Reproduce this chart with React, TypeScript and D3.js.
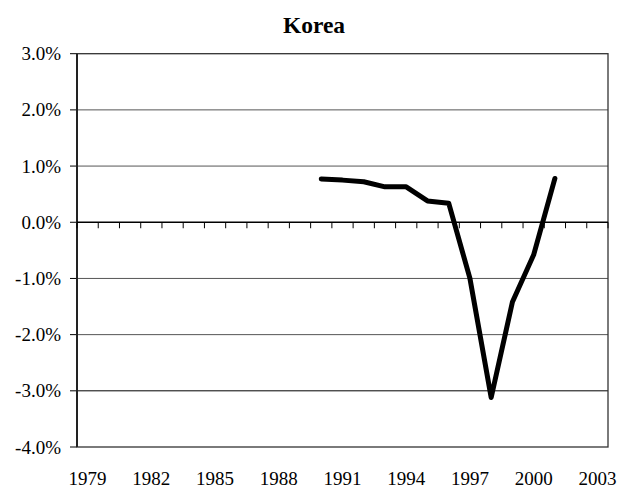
import React from "react";
import * as d3 from "d3";

const title = "Korea";
const years: number[] = d3.range(1979, 2004);
const dataYears = [1990, 1991, 1992, 1993, 1994, 1995, 1996, 1997, 1998, 1999, 2000, 2001];
const dataValues = [0.77, 0.75, 0.72, 0.63, 0.63, 0.38, 0.34, -1.0, -3.12, -1.42, -0.58, 0.78];
const yTicks = [3, 2, 1, 0, -1, -2, -3, -4];
const labelYears = [1979, 1982, 1985, 1988, 1991, 1994, 1997, 2000, 2003];

export default function App() {
  const W = 629, H = 495;
  const left = 77, right = 608, top = 53.7, bottom = 447;
  const x = d3.scaleBand<number>().domain(years).range([left, right]).padding(0);
  const y = d3.scaleLinear().domain([-4, 3]).range([bottom, top]);
  const cx = (yr: number) => (x(yr) as number) + x.bandwidth() / 2;
  const pts = dataYears.map((yr, i) => [cx(yr), y(dataValues[i])] as [number, number]);
  const line = d3.line<[number, number]>().x(d => d[0]).y(d => d[1]);
  const font = "'Liberation Serif', 'Times New Roman', serif";
  const boundaries = years.map(yr => x(yr) as number).concat([right]);
  const fmt = (t: number) => (t < 0 ? "-" : "") + Math.abs(t).toFixed(1) + "%";
  return (
    <svg width={W} height={H} style={{ position: "absolute", left: 0, top: 0, background: "#fff" }}>
      <rect x={0} y={0} width={W} height={H} fill="#fff" />
      <text x={314} y={33} textAnchor="middle" fontFamily={font} fontWeight="bold" fontSize={23.5}>{title}</text>
      {yTicks.map(t => (
        <g key={t}>
          {t !== 3 && t !== -4 && t !== 0 && (
            <line x1={left} x2={right} y1={y(t)} y2={y(t)} stroke={t === -3 ? "#000" : "#555"} strokeWidth={1} />
          )}
          <line x1={left - 7} x2={left} y1={y(t)} y2={y(t)} stroke="#000" strokeWidth={1} />
          <text x={61} y={y(t) + 6.5} textAnchor="end" fontFamily={font} fontSize={19}>
            {fmt(t)}
          </text>
        </g>
      ))}
      <rect x={left} y={top} width={right - left} height={bottom - top} fill="none" stroke="#333" strokeWidth={1.3} />
      <line x1={left} x2={left} y1={top} y2={bottom} stroke="#222" strokeWidth={2} />
      <line x1={left} x2={right} y1={y(0)} y2={y(0)} stroke="#000" strokeWidth={1.3} />
      {boundaries.map((bx, i) => (
        <line key={i} x1={bx} x2={bx} y1={y(0)} y2={y(0) + 6} stroke="#000" strokeWidth={1} />
      ))}
      {labelYears.map(yr => (
        <text key={yr} x={cx(yr)} y={485} textAnchor="middle" fontFamily={font} fontSize={19}>{yr}</text>
      ))}
      <path d={line(pts) || ""} fill="none" stroke="#000" strokeWidth={5} strokeLinejoin="round" strokeLinecap="round" />
    </svg>
  );
}
